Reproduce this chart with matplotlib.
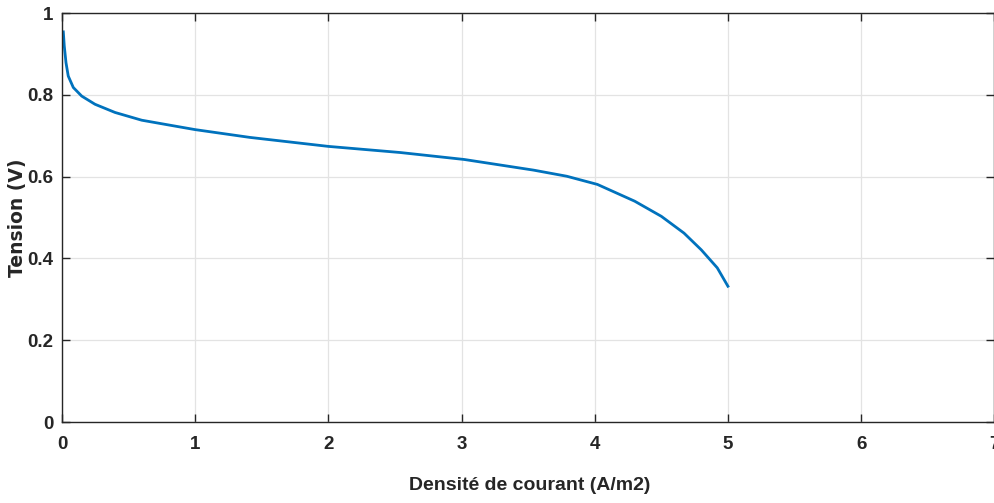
import matplotlib.pyplot as plt

# Courbe de polarisation
densite = [0.01, 0.017, 0.03, 0.047, 0.085, 0.148, 0.248, 0.398, 0.599, 0.825,
           1.0, 1.41, 2.0, 2.54, 3.02, 3.54, 3.79, 4.02, 4.30, 4.50,
           4.67, 4.80, 4.92, 5.0]
tension = [0.954, 0.920, 0.879, 0.846, 0.818, 0.797, 0.777, 0.757, 0.738, 0.725,
           0.715, 0.696, 0.674, 0.659, 0.642, 0.616, 0.601, 0.581, 0.540, 0.503,
           0.462, 0.421, 0.377, 0.332]

x_ticks = [0, 1, 2, 3, 4, 5, 6, 7]
y_ticks = [0, 0.2, 0.4, 0.6, 0.8, 1]
y_ticklabels = ['0', '0.2', '0.4', '0.6', '0.8', '1']

police = ['Liberation Sans', 'DejaVu Sans']

fig = plt.figure(figsize=(9.95, 5.03), dpi=100)
ax = fig.add_axes([0.0623, 0.161, 0.937, 0.813])

ax.plot(densite, tension, color='#0072BD', linewidth=2.0)

ax.set_xlim(0, 7)
ax.set_ylim(0, 1)
ax.set_xticks(x_ticks)
ax.set_yticks(y_ticks)
ax.set_yticklabels(y_ticklabels)
ax.grid(True, color='#e3e3e3', linewidth=0.9)
ax.set_axisbelow(True)
ax.tick_params(direction='in', top=True, right=True, length=6, width=1.0,
               colors='#262626', labelsize=13.5)
ax.tick_params(axis='x', pad=10)
ax.tick_params(axis='y', pad=6)
for lab in ax.get_xticklabels() + ax.get_yticklabels():
    lab.set_family(police)
    lab.set_fontweight('bold')
for s in ax.spines.values():
    s.set_color('#262626')
    s.set_linewidth(1.0)

ax.set_xlabel('Densité de courant (A/m2)', family=police, fontweight='bold',
              fontsize=14, color='#262626')
ax.xaxis.set_label_coords(0.502, -0.135)
ax.set_ylabel('Tension (V)', family=['DejaVu Sans'],
              fontweight='bold', fontsize=13.5, color='#262626')
ax.yaxis.set_label_coords(-0.038, 0.5)

fig.savefig('out.png', dpi=100)
